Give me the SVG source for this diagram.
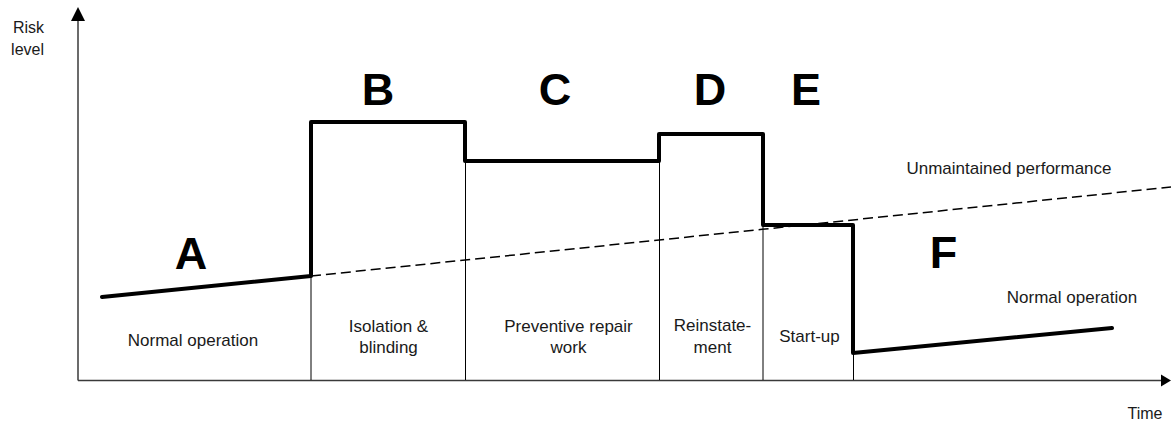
<svg xmlns="http://www.w3.org/2000/svg" width="1171" height="423" viewBox="0 0 1171 423">
<style>
text{font-family:"Liberation Sans",Arial,sans-serif;fill:#1a1a1a}
.lbl{font-size:17px;text-anchor:middle}
.big{font-size:45px;font-weight:bold;text-anchor:middle;fill:#000}
.div{stroke:#000;stroke-width:1;fill:none}
.thick{stroke:#000;stroke-width:4;fill:none;stroke-linejoin:round;stroke-linecap:round}
.axis{stroke:#3a3a3a;stroke-width:1.5;fill:none}
</style>
<rect width="1171" height="423" fill="#fff"/>
<g id="axes">
<line class="axis" x1="78" y1="380.5" x2="78" y2="18"/>
<polygon points="78,7 71,21 85,21" fill="#000"/>
<line class="axis" x1="78" y1="380.5" x2="1163" y2="380.5"/>
<polygon points="1171,380.5 1161,374.5 1161,386.5" fill="#000"/>
<text class="lbl" x="44" y="33" style="text-anchor:end;font-size:16px">Risk</text>
<text class="lbl" x="44" y="55" style="text-anchor:end;font-size:16px">level</text>
<text class="lbl" x="1145" y="419" style="font-size:16px">Time</text>
</g>
<g id="connectors">
<line class="div" x1="311" y1="276" x2="311" y2="380"/>
<line class="div" x1="465.5" y1="161" x2="465.5" y2="380"/>
<line class="div" x1="659.5" y1="161" x2="659.5" y2="380"/>
<line class="div" x1="763" y1="225" x2="763" y2="380"/>
<line class="div" x1="853.5" y1="353" x2="853.5" y2="380"/>
<line x1="311" y1="276" x2="1171" y2="187" stroke="#000" stroke-width="1.5" stroke-dasharray="10,5"/>
<polyline class="thick" points="102,297 311,276 311,122 465,122 465,161 659,161 659,134 763,134 763,225 853,225 853,353 1112,328"/>
</g>
<g id="A"><text class="big" x="191" y="269">A</text><text class="lbl" x="193" y="346">Normal operation</text></g>
<g id="B"><text class="big" x="378" y="105">B</text><text class="lbl" x="388.5" y="332">Isolation &amp;</text><text class="lbl" x="388.5" y="353">blinding</text></g>
<g id="C"><text class="big" x="555" y="105">C</text><text class="lbl" x="568.5" y="332">Preventive repair</text><text class="lbl" x="568.5" y="353">work</text></g>
<g id="D"><text class="big" x="710" y="105">D</text><text class="lbl" x="712.5" y="331">Reinstate-</text><text class="lbl" x="712.5" y="353">ment</text></g>
<g id="E"><text class="big" x="806" y="105">E</text><text class="lbl" x="809.5" y="342">Start-up</text></g>
<g id="F"><text class="big" x="943.5" y="268">F</text><text class="lbl" x="1072" y="303">Normal operation</text></g>
<g id="unmaintained"><text class="lbl" x="1009" y="174">Unmaintained performance</text></g>
</svg>
